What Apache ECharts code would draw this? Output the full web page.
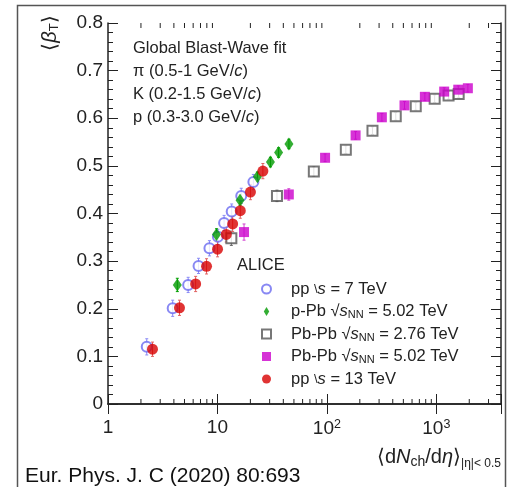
<!DOCTYPE html>
<html><head><meta charset="utf-8">
<script src="https://cdn.jsdelivr.net/npm/echarts@6/dist/echarts.min.js"></script>
<style>html,body{margin:0;padding:0;background:#fff}#c{width:507px;height:487px}</style>
</head><body><div id="c"></div>
<script>
// ---- data ----
const pp7Mult  = [2.26, 3.90, 5.40, 6.72, 8.45, 10.1, 11.5, 13.5, 16.5, 21.3];
const pp7Beta  = [0.120, 0.201, 0.250, 0.290, 0.327, 0.351, 0.380, 0.404, 0.437, 0.466];
const pp7Err   = [0.017, 0.017, 0.016, 0.016, 0.016, 0.016, 0.016, 0.016, 0.016, 0.016];

const pPbMult  = [4.3, 9.8, 16.1, 23.2, 30.5, 36.2, 45.0];
const pPbBeta  = [0.250, 0.356, 0.428, 0.477, 0.508, 0.528, 0.546];
const pPbErr   = [0.014, 0.012, 0.011, 0.010, 0.010, 0.010, 0.010];

const PbPb276Mult = [13.4, 35, 76, 149, 261, 426, 649, 966, 1294, 1601];
const PbPb276Beta = [0.348, 0.437, 0.488, 0.534, 0.574, 0.604, 0.625, 0.641, 0.648, 0.651];
const PbPb276Err  = [0.015, 0.012, 0.010, 0.008, 0.008, 0.008, 0.008, 0.008, 0.008, 0.008];

const PbPb502Mult = [17.5, 44.9, 96.3, 183, 318, 512, 786, 1180, 1587, 1942];
const PbPb502Beta = [0.361, 0.440, 0.517, 0.564, 0.602, 0.627, 0.645, 0.656, 0.660, 0.663];
const PbPb502Err  = [0.017, 0.012, 0.008, 0.008, 0.008, 0.008, 0.008, 0.008, 0.008, 0.008];

const pp13Mult = [2.55, 4.50, 6.32, 7.95, 10.02, 12.04, 13.77, 16.17, 20.02, 26.02];
const pp13Beta = [0.115, 0.202, 0.252, 0.289, 0.325, 0.356, 0.378, 0.406, 0.445, 0.489];
const pp13Err  = [0.015, 0.016, 0.016, 0.016, 0.016, 0.016, 0.016, 0.016, 0.016, 0.016];

const xTickValues = [1, 10, 100, 1000];
const xTickLabels = ['1', '10', '10{sup|2}', '10{sup|3}'];
const xMinorTicks = [2,3,4,5,6,7,8,9,20,30,40,50,60,70,80,90,200,300,400,500,600,700,800,900,2000,3000];
const seriesNames = ['pp 7 TeV', 'p-Pb 5.02 TeV', 'Pb-Pb 2.76 TeV', 'Pb-Pb 5.02 TeV', 'pp 13 TeV'];
const legendLabels = [
  'pp {bs|\\}{it|s} = 7 TeV',
  'p-Pb {sq|√}{it|s}{sub|NN} = 5.02 TeV',
  'Pb-Pb {sq|√}{it|s}{sub|NN} = 2.76 TeV',
  'Pb-Pb {sq|√}{it|s}{sub|NN} = 5.02 TeV',
  'pp {bs|\\}{it|s} = 13 TeV'
];

// ---- chart ----
const FONT = 'Liberation Sans, Arial, sans-serif';
const XMIN = 1, XMAX = 3900, YMIN = 0, YMAX = 0.8;
const chart = echarts.init(document.getElementById('c'), null, {renderer: 'canvas'});

function zip(xs, ys, es) { return xs.map((x, i) => es ? [x, ys[i], es[i]] : [x, ys[i]]); }

function errSeries(xs, ys, es, color) {
  return {
    type: 'custom', silent: true, z: 2,
    data: zip(xs, ys, es),
    renderItem: function (params, api) {
      const x = api.value(0), y = api.value(1), e = api.value(2);
      const p1 = api.coord([x, y - e]), p2 = api.coord([x, y + e]);
      const st = {stroke: color, lineWidth: 1};
      return {type: 'group', children: [
        {type: 'line', shape: {x1: p1[0], y1: p1[1], x2: p2[0], y2: p2[1]}, style: st},
        {type: 'line', shape: {x1: p1[0] - 1.5, y1: p1[1], x2: p1[0] + 1.5, y2: p1[1]}, style: st},
        {type: 'line', shape: {x1: p2[0] - 1.5, y1: p2[1], x2: p2[0] + 1.5, y2: p2[1]}, style: st}
      ]};
    }
  };
}

const axisLine = {show: true, lineStyle: {color: '#222', width: 1.5}};
const richLeg = {
  it: {fontStyle: 'italic', fontSize: 16.5, fontFamily: FONT, color: '#222'},
  bs: {fontSize: 13, fontFamily: FONT, color: '#222'},
  sq: {fontSize: 16.5, fontFamily: FONT, color: '#222'},
  sub: {fontSize: 11, fontFamily: FONT, color: '#222', verticalAlign: 'bottom', padding: [6, 0, 0, 0]}
};

const option = {
  animation: false,
  backgroundColor: '#fff',
  grid: {left: 108, right: 6, top: 23, bottom: 83},
  xAxis: [
    {type: 'log', logBase: 10, min: XMIN, max: XMAX, position: 'bottom',
     axisLine: axisLine, splitLine: {show: false},
     axisTick: {show: true, inside: true, length: 10, lineStyle: {color: '#222', width: 1}},
     axisLabel: {margin: 14, fontSize: 19, fontFamily: FONT, color: '#222',
       formatter: function (v) { const i = xTickValues.indexOf(Math.round(v)); return i >= 0 ? xTickLabels[i] : ''; },
       rich: {sup: {fontSize: 12.5, fontFamily: FONT, color: '#222', verticalAlign: 'top', padding: [0, 0, 8, 0]}}}},
    {type: 'log', logBase: 10, min: XMIN, max: XMAX, position: 'top',
     axisLine: axisLine, splitLine: {show: false}, axisLabel: {show: false},
     axisTick: {show: true, inside: true, length: 10, lineStyle: {color: '#222', width: 1}}}
  ],
  yAxis: [
    {type: 'value', min: YMIN, max: YMAX, interval: 0.1, position: 'left',
     axisLine: axisLine, splitLine: {show: false},
     axisTick: {show: true, inside: true, length: 10, lineStyle: {color: '#222', width: 1}},
     minorTick: {show: true, splitNumber: 5, length: 5, lineStyle: {color: '#222', width: 1}},
     axisLabel: {margin: 5, fontSize: 19, fontFamily: FONT, color: '#222',
       formatter: function (v) { return v === 0 ? '0' : v.toFixed(1); }}},
    {type: 'value', min: YMIN, max: YMAX, interval: 0.1, position: 'right',
     axisLine: axisLine, splitLine: {show: false}, axisLabel: {show: false},
     axisTick: {show: true, inside: true, length: 10, lineStyle: {color: '#222', width: 1}},
     minorTick: {show: true, splitNumber: 5, length: 5, lineStyle: {color: '#222', width: 1}}}
  ],
  legend: {
    show: true, orient: 'vertical', left: 256, top: 275,
    itemWidth: 9, itemHeight: 9, itemGap: 4.5,
    data: [
      {name: seriesNames[0]},
      {name: seriesNames[1], icon: 'path://M3,0L6,5L3,10L0,5Z'},
      {name: seriesNames[2]},
      {name: seriesNames[3]},
      {name: seriesNames[4]}
    ],
    formatter: function (name) { return legendLabels[seriesNames.indexOf(name)]; },
    textStyle: {fontSize: 16.5, fontFamily: FONT, color: '#222', lineHeight: 18, padding: [0, 0, 0, 15], rich: richLeg},
    selectedMode: false
  },
  series: [
    {type: 'custom', silent: true, z: 1,
     data: xMinorTicks.map(v => [v, YMIN]),
     renderItem: function (params, api) {
       const v = api.value(0);
       const b = api.coord([v, YMIN]), t = api.coord([v, YMAX]);
       const st = {stroke: '#222', lineWidth: 1};
       return {type: 'group', children: [
         {type: 'line', shape: {x1: b[0], y1: b[1], x2: b[0], y2: b[1] - 5}, style: st},
         {type: 'line', shape: {x1: t[0], y1: t[1], x2: t[0], y2: t[1] + 5}, style: st}
       ]};
     }},
    errSeries(pp7Mult, pp7Beta, pp7Err, '#8a8af5'),
    {name: seriesNames[0], type: 'scatter', z: 3, symbol: 'emptyCircle', symbolSize: 10,
     itemStyle: {color: '#6a6af0', borderColor: '#6a6af0', borderWidth: 1.3},
     data: zip(pp7Mult, pp7Beta)},
    errSeries(pPbMult, pPbBeta, pPbErr, '#00a000'),
    {name: seriesNames[1], type: 'scatter', z: 4, symbol: 'diamond', symbolSize: [9, 13],
     itemStyle: {color: '#009a00'},
     data: zip(pPbMult, pPbBeta)},
    errSeries(PbPb276Mult, PbPb276Beta, PbPb276Err, '#666'),
    {name: seriesNames[2], type: 'scatter', z: 5, symbol: 'emptyRect', symbolSize: 10,
     itemStyle: {color: '#555', borderColor: '#555', borderWidth: 1.4},
     data: zip(PbPb276Mult, PbPb276Beta)},
    errSeries(PbPb502Mult, PbPb502Beta, PbPb502Err, '#d040d0'),
    {name: seriesNames[3], type: 'scatter', z: 6, symbol: 'rect', symbolSize: 10,
     itemStyle: {color: '#cc00cc'},
     data: zip(PbPb502Mult, PbPb502Beta)},
    errSeries(pp13Mult, pp13Beta, pp13Err, '#e06060'),
    {name: seriesNames[4], type: 'scatter', z: 7, symbol: 'circle', symbolSize: 11,
     itemStyle: {color: '#d80000'},
     data: zip(pp13Mult, pp13Beta)}
  ],
  graphic: [
    {type: 'rect', silent: true, z: 0, shape: {x: 17.5, y: 5.5, width: 488, height: 500},
     style: {fill: 'none', stroke: '#555', lineWidth: 1.5}},
    {type: 'text', x: 133, y: 48, style: {text: 'Global Blast-Wave fit', font: '16.5px ' + FONT, fill: '#222', verticalAlign: 'middle'}},
    {type: 'text', x: 133, y: 71.5, style: {text: 'π (0.5-1 GeV/{it|c})', font: '16.5px ' + FONT, fill: '#222', verticalAlign: 'middle',
      rich: {it: {fontStyle: 'italic', fontSize: 16.5, fontFamily: FONT, fill: '#222'}}}},
    {type: 'text', x: 133, y: 94.5, style: {text: 'K (0.2-1.5 GeV/{it|c})', font: '16.5px ' + FONT, fill: '#222', verticalAlign: 'middle',
      rich: {it: {fontStyle: 'italic', fontSize: 16.5, fontFamily: FONT, fill: '#222'}}}},
    {type: 'text', x: 133, y: 117, style: {text: 'p (0.3-3.0 GeV/{it|c})', font: '16.5px ' + FONT, fill: '#222', verticalAlign: 'middle',
      rich: {it: {fontStyle: 'italic', fontSize: 16.5, fontFamily: FONT, fill: '#222'}}}},
    {type: 'text', x: 237, y: 265, style: {text: 'ALICE', font: '16.5px ' + FONT, fill: '#222', verticalAlign: 'middle'}},
    {type: 'text', x: 50, y: 33, rotation: Math.PI / 2,
     style: {text: '⟨{b|β}{s|T}⟩', font: '20px ' + FONT, fill: '#222', align: 'center', verticalAlign: 'middle',
       rich: {b: {fontStyle: 'italic', fontSize: 20, fontFamily: FONT, fill: '#222'},
              s: {fontSize: 13, fontFamily: FONT, fill: '#222', verticalAlign: 'bottom', padding: [8, 0, 0, 0]}}}},
    {type: 'text', x: 501, y: 457,
     style: {text: '⟨d{i|N}{s|ch}/d{i|η}⟩{t||η|< 0.5}', font: '20px ' + FONT, fill: '#222', align: 'right', verticalAlign: 'middle',
       rich: {i: {fontStyle: 'italic', fontSize: 20, fontFamily: FONT, fill: '#222'},
              s: {fontSize: 14, fontFamily: FONT, fill: '#222', verticalAlign: 'bottom', padding: [10, 0, 0, 0]},
              t: {fontSize: 12, fontFamily: FONT, fill: '#222', verticalAlign: 'bottom', padding: [13, 0, 0, 0]}}}},
    {type: 'text', x: 25, y: 476, style: {text: 'Eur. Phys. J. C (2020) 80:693', font: '21px ' + FONT, fill: '#111', verticalAlign: 'middle'}}
  ]
};
chart.setOption(option);
</script>
</body></html>
